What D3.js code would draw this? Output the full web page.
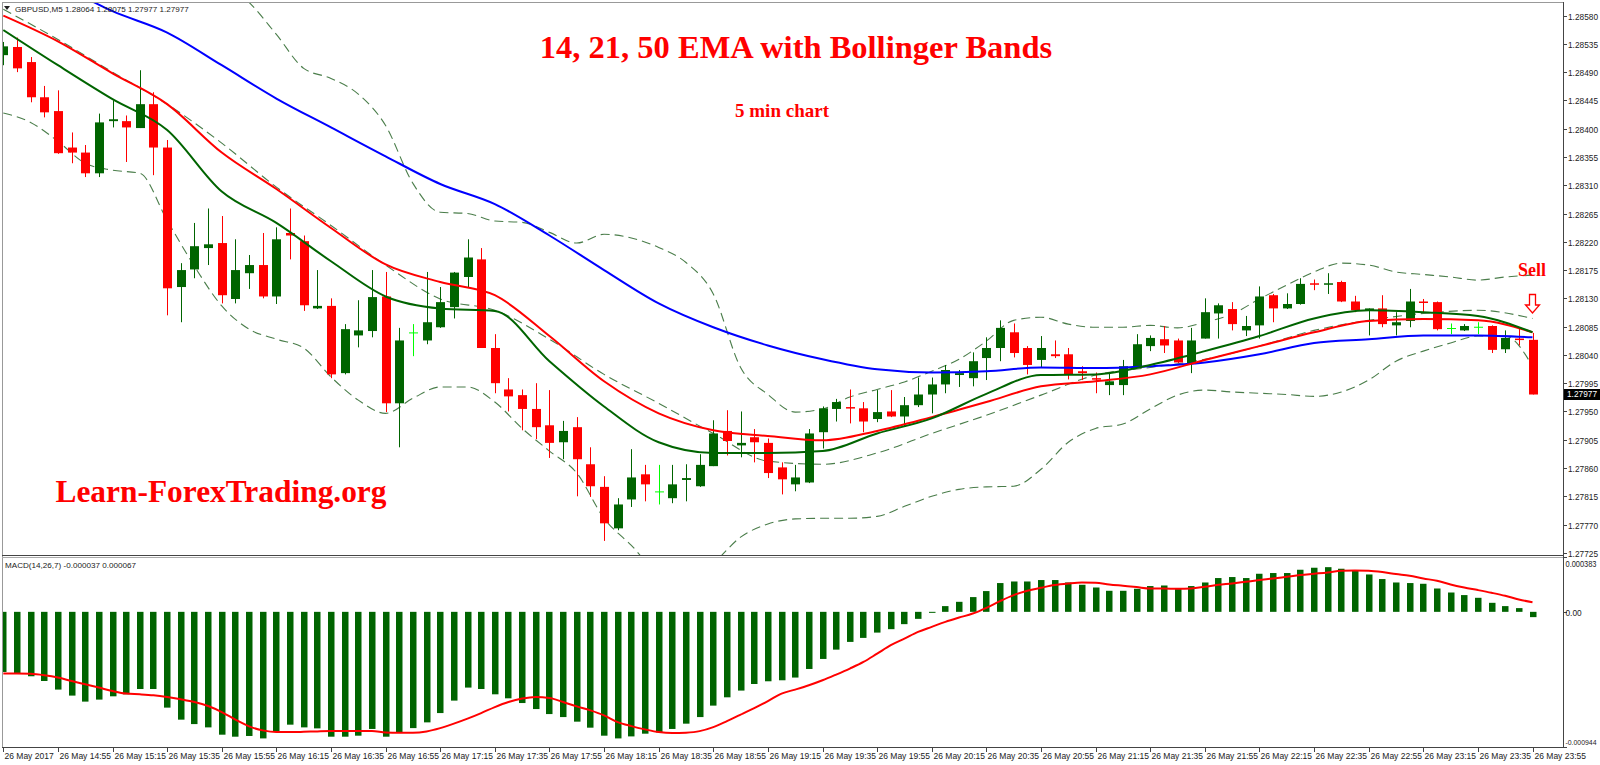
<!DOCTYPE html>
<html>
<head>
<meta charset="utf-8">
<script src="https://cdnjs.cloudflare.com/ajax/libs/d3/7.8.5/d3.min.js"></script>
<style>
  body { margin: 0; background: #fff; }
  svg { display: block; }
</style>
</head>
<body>
<svg id="chart" width="1600" height="765"></svg>
<script>
// GBPUSD M5 candles, 14:35 .. 23:55
const opens = [1.28517,1.28530,1.28506,1.28450,1.28428,1.28370,1.28362,1.28329,1.28412,1.28412,
  1.28401,1.28439,1.28370,1.28148,1.28176,1.28210,1.28218,1.28129,1.28170,1.28183,
  1.28133,1.28234,1.28221,1.28114,1.28118,1.28011,1.28071,1.28078,1.28133,1.27963,
  1.28075,1.28063,1.28084,1.28116,1.28164,1.28192,1.28051,1.27985,1.27976,1.27954,
  1.27928,1.27901,1.27925,1.27866,1.27830,1.27764,1.27810,1.27850,1.27822,1.27812,
  1.27841,1.27831,1.27863,1.27919,1.27896,1.27909,1.27900,1.27861,1.27834,1.27837,
  1.27917,1.27954,1.27957,1.27955,1.27938,1.27950,1.27942,1.27960,1.27977,1.27993,
  1.28008,1.28003,1.28035,1.28051,1.28076,1.28051,1.28032,1.28041,1.28041,1.28014,
  1.28003,1.27992,1.27992,1.28020,1.28054,1.28065,1.28063,1.28027,1.28066,1.28106,
  1.28113,1.28079,1.28087,1.28135,1.28114,1.28121,1.28154,1.28152,1.28156,1.28125,
  1.28110,1.28114,1.28087,1.28094,1.28125,1.28124,1.28082,1.28079,1.28084,1.28086,
  1.28049,1.28066,1.28064];
const highs = [1.28538,1.28545,1.28514,1.28468,1.28461,1.28394,1.28374,1.28424,1.28445,1.28421,
  1.28493,1.28458,1.28382,1.28186,1.28250,1.28273,1.28261,1.28224,1.28199,1.28234,
  1.28243,1.28273,1.28230,1.28175,1.28130,1.28089,1.28127,1.28175,1.28172,1.28083,
  1.28089,1.28172,1.28148,1.28172,1.28224,1.28210,1.28073,1.28003,1.27985,1.27995,
  1.27984,1.27935,1.27941,1.27893,1.27847,1.27812,1.27890,1.27865,1.27865,1.27865,
  1.27866,1.27882,1.27936,1.27952,1.27950,1.27922,1.27907,1.27869,1.27865,1.27922,
  1.27958,1.27970,1.27985,1.27965,1.27984,1.27984,1.27973,1.28004,1.28004,1.28024,
  1.28016,1.28044,1.28068,1.28095,1.28090,1.28054,1.28070,1.28063,1.28051,1.28022,
  1.28012,1.28011,1.28032,1.28073,1.28071,1.28086,1.28066,1.28083,1.28130,1.28122,
  1.28124,1.28102,1.28149,1.28137,1.28138,1.28162,1.28160,1.28170,1.28158,1.28134,
  1.28114,1.28135,1.28108,1.28145,1.28129,1.28125,1.28090,1.28089,1.28092,1.28087,
  1.28079,1.28084,1.28075];
const lows = [1.28501,1.28490,1.28442,1.28418,1.28360,1.28345,1.28323,1.28323,1.28402,1.28347,
  1.28401,1.28326,1.28103,1.28092,1.28162,1.28183,1.28122,1.28122,1.28145,1.28130,
  1.28121,1.28192,1.28110,1.28113,1.28003,1.28009,1.28052,1.28068,1.27949,1.27893,
  1.28038,1.28057,1.28083,1.28098,1.28148,1.28051,1.27979,1.27950,1.27920,1.27906,
  1.27876,1.27874,1.27815,1.27814,1.27744,1.27761,1.27798,1.27807,1.27802,1.27804,
  1.27807,1.27830,1.27863,1.27880,1.27877,1.27869,1.27844,1.27818,1.27823,1.27836,
  1.27891,1.27934,1.27931,1.27917,1.27933,1.27941,1.27927,1.27957,1.27947,1.27979,
  1.27989,1.27990,1.28000,1.28030,1.28036,1.28009,1.28020,1.28035,1.28001,1.28000,
  1.27979,1.27976,1.27976,1.28020,1.28046,1.28043,1.28027,1.28011,1.28066,1.28066,
  1.28079,1.28070,1.28066,1.28092,1.28113,1.28120,1.28143,1.28137,1.28124,1.28108,
  1.28071,1.28084,1.28071,1.28084,1.28108,1.28079,1.28073,1.28078,1.28073,1.28043,
  1.28043,1.28055,1.27977];
const closes = [1.28531,1.28496,1.28450,1.28426,1.28361,1.28362,1.28329,1.28410,1.28415,1.28402,
  1.28439,1.28370,1.28146,1.28175,1.28213,1.28216,1.28135,1.28175,1.28183,1.28133,
  1.28224,1.28230,1.28119,1.28118,1.28009,1.28081,1.28079,1.28132,1.27963,1.28063,
  1.28075,1.28092,1.28124,1.28171,1.28195,1.28051,1.27995,1.27974,1.27954,1.27925,
  1.27900,1.27919,1.27874,1.27831,1.27772,1.27802,1.27845,1.27834,1.27822,1.27834,
  1.27844,1.27865,1.27915,1.27903,1.27900,1.27901,1.27852,1.27842,1.27845,1.27915,
  1.27955,1.27965,1.27955,1.27934,1.27949,1.27942,1.27960,1.27977,1.27993,1.28016,
  1.28011,1.28030,1.28051,1.28083,1.28043,1.28024,1.28051,1.28038,1.28009,1.28011,
  1.28001,1.27998,1.28022,1.28057,1.28067,1.28055,1.28028,1.28063,1.28108,1.28119,
  1.28089,1.28086,1.28133,1.28114,1.28121,1.28153,1.28153,1.28154,1.28125,1.28111,
  1.28114,1.28089,1.28092,1.28125,1.28124,1.28081,1.28082,1.28086,1.28084,1.28048,
  1.28067,1.28064,1.27977];

// indicator lines (EMAs every 4 bars, bands every 2 bars)
const ema14 = [1.28557,1.28501,1.28447,1.28398,1.28300,1.28250,1.28189,1.28133,1.28114,1.28110,
  1.28030,1.27958,1.27901,1.27884,1.27884,1.27887,1.27915,1.27939,1.27978,1.28008,
  1.28009,1.28024,1.28046,1.28070,1.28098,1.28111,1.28108,1.28102,1.28076];
const ema21 = [1.28580,1.28539,1.28488,1.28439,1.28362,1.28304,1.28242,1.28184,1.28156,1.28135,
  1.28070,1.27998,1.27947,1.27920,1.27911,1.27904,1.27919,1.27941,1.27965,1.27990,
  1.27998,1.28009,1.28032,1.28054,1.28076,1.28094,1.28097,1.28095,1.28076];
const ema50 = [1.28668,1.28630,1.28587,1.28553,1.28501,1.28448,1.28402,1.28356,1.28312,1.28280,
  1.28230,1.28175,1.28122,1.28084,1.28055,1.28033,1.28017,1.28012,1.28014,1.28020,
  1.28019,1.28022,1.28028,1.28041,1.28059,1.28065,1.28071,1.28071,1.28068];
const bbMiddle = [1.28590,1.28542,1.28490,1.28439,1.28377,1.28307,1.28246,1.28183,1.28129,1.28111,
  1.28065,1.28009,1.27963,1.27915,1.27871,1.27866,1.27884,1.27915,1.27944,1.27976,
  1.28008,1.28020,1.28033,1.28054,1.28079,1.28095,1.28106,1.28111,1.28098];
const bbUpper = [1.28757,1.28732,1.28705,1.28679,1.28646,1.28619,1.28623,1.28636,1.28636,1.28601,
  1.28550,1.28496,1.28480,1.28455,1.28405,1.28313,1.28267,1.28265,1.28253,1.28251,
  1.28235,1.28218,1.28232,1.28226,1.28211,1.28187,1.28137,1.28020,1.27977,1.27949,
  1.27954,1.27973,1.27985,1.27997,1.28014,1.28033,1.28062,1.28095,1.28100,1.28089,
  1.28084,1.28084,1.28087,1.28083,1.28092,1.28105,1.28129,1.28151,1.28172,1.28186,
  1.28183,1.28172,1.28168,1.28164,1.28159,1.28164,1.28167];
const bbLower = [1.28425,1.28410,1.28380,1.28345,1.28334,1.28329,1.28254,1.28181,1.28118,1.28081,
  1.28065,1.28051,1.28005,1.27968,1.27947,1.27971,1.27989,1.27989,1.27965,1.27923,
  1.27887,1.27852,1.27780,1.27737,1.27693,1.27685,1.27709,1.27750,1.27771,1.27779,
  1.27780,1.27780,1.27783,1.27799,1.27815,1.27826,1.27830,1.27831,1.27858,1.27901,
  1.27923,1.27930,1.27954,1.27976,1.27984,1.27981,1.27979,1.27977,1.27974,1.27981,
  1.28000,1.28030,1.28046,1.28059,1.28070,1.28070,1.28022];

// MACD(14,26,7) histogram and signal
const macdHist = [-420,-427,-450,-483,-543,-585,-627,-613,-590,-576,
  -539,-539,-669,-753,-784,-807,-858,-872,-867,-884,
  -837,-788,-807,-814,-872,-872,-865,-818,-872,-842,
  -812,-772,-707,-620,-529,-539,-576,-604,-637,-679,
  -714,-735,-767,-809,-865,-884,-870,-851,-842,-818,
  -781,-735,-655,-597,-550,-504,-485,-478,-459,-399,
  -329,-264,-210,-182,-145,-121,-86,-49,-7,40,
  70,103,145,201,212,212,222,222,205,189,
  170,147,147,161,180,184,163,180,205,236,
  243,236,266,271,271,294,308,312,301,287,
  261,229,205,201,196,163,135,117,98,63,
  40,26,-37].map(v => v / 1e6);
const macdSignal = [-431,-431,-433,-443,-459,-483,-506,-529,-553,-571,
  -576,-583,-595,-611,-630,-658,-700,-753,-800,-828,
  -840,-840,-838,-835,-833,-833,-833,-833,-842,-844,
  -844,-835,-812,-781,-746,-707,-665,-630,-606,-595,
  -602,-630,-660,-688,-723,-770,-798,-821,-840,-847,
  -844,-833,-805,-763,-718,-672,-623,-571,-543,-513,
  -478,-438,-396,-350,-292,-233,-187,-140,-105,-70,
  -40,-12,28,75,117,147,168,187,198,205,
  203,191,182,173,163,163,161,163,175,189,
  198,210,222,233,245,257,266,275,287,289,
  287,278,264,252,233,217,191,170,152,133,
  112,86,67].map(v => v / 1e6);

const timeLabels = ["26 May 2017","26 May 14:55","26 May 15:15","26 May 15:35","26 May 15:55",
  "26 May 16:15","26 May 16:35","26 May 16:55","26 May 17:15","26 May 17:35","26 May 17:55",
  "26 May 18:15","26 May 18:35","26 May 18:55","26 May 19:15","26 May 19:35","26 May 19:55",
  "26 May 20:15","26 May 20:35","26 May 20:55","26 May 21:15","26 May 21:35","26 May 21:55",
  "26 May 22:15","26 May 22:35","26 May 22:55","26 May 23:15","26 May 23:35","26 May 23:55"];
const priceTicks = [1.28580,1.28535,1.28490,1.28445,1.28400,1.28355,1.28310,1.28265,1.28220,1.28175,
  1.28130,1.28085,1.28040,1.27995,1.27950,1.27905,1.27860,1.27815,1.27770,1.27725];
const macdTicks = [0.000383, 0, -0.000944];
const macdTickLabels = ["0.000383", "0.00", "-0.000944"];

const svg = d3.select("#chart");
const uiFont = "Liberation Sans, Arial, sans-serif";
const serif = "Liberation Serif, Times New Roman, serif";

// scales
const x = d3.scaleLinear().domain([0, 112]).range([3.3, 1532.5]);
const y = d3.scaleLinear().domain([1.27720, 1.28600]).range([556, 3]);
const ym = d3.scaleLinear().domain([-0.000944, 0.000383]).range([747, 557]);

const defs = svg.append("defs");
defs.append("clipPath").attr("id", "clipMain")
  .append("rect").attr("x", 3).attr("y", 3).attr("width", 1560).attr("height", 552);
defs.append("clipPath").attr("id", "clipSub")
  .append("rect").attr("x", 3).attr("y", 558).attr("width", 1560).attr("height", 189);

// frames
const frame = svg.append("g");
frame.append("line").attr("x1", 2.5).attr("x2", 2.5).attr("y1", 2).attr("y2", 748).attr("stroke", "#999");
frame.append("line").attr("x1", 2).attr("x2", 1564).attr("y1", 2.5).attr("y2", 2.5).attr("stroke", "#999");
frame.append("line").attr("x1", 2).attr("x2", 1564).attr("y1", 555.5).attr("y2", 555.5).attr("stroke", "#444");
frame.append("line").attr("x1", 2).attr("x2", 1564).attr("y1", 557.5).attr("y2", 557.5).attr("stroke", "#aaa");
frame.append("line").attr("x1", 2).attr("x2", 1564).attr("y1", 747.5).attr("y2", 747.5).attr("stroke", "#444");
frame.append("line").attr("x1", 1563.5).attr("x2", 1563.5).attr("y1", 2).attr("y2", 748).attr("stroke", "#444");

const mainG = svg.append("g").attr("clip-path", "url(#clipMain)");

// Bollinger bands (dashed)
const bandLine = (step) => d3.line()
  .x((d, i) => x(i * step))
  .y(d => y(d))
  .curve(d3.curveMonotoneX);
[[bbUpper, 2], [bbMiddle, 4], [bbLower, 2]].forEach(([vals, step]) => {
  mainG.append("path")
    .attr("d", bandLine(step)(vals))
    .attr("fill", "none")
    .attr("stroke", "#4a7d4a")
    .attr("stroke-width", 1.1)
    .attr("stroke-dasharray", "9,5");
});

// candles
const candles = opens.map((o, i) => ({ i, o, h: highs[i], l: lows[i], c: closes[i] }));
const bodyW = 9;
const cg = mainG.append("g");
candles.forEach(d => {
  const doji = d.o === d.c;
  const up = d.c > d.o;
  const col = doji ? "#00ff00" : (up ? "#006400" : "#ff0000");
  const cx = Math.round(x(d.i)) + 0.5;
  cg.append("line")
    .attr("x1", cx).attr("x2", cx)
    .attr("y1", y(d.h)).attr("y2", y(d.l))
    .attr("stroke", col).attr("stroke-width", 1);
  if (doji) {
    cg.append("line")
      .attr("x1", cx - bodyW / 2).attr("x2", cx + bodyW / 2)
      .attr("y1", y(d.o)).attr("y2", y(d.o))
      .attr("stroke", col).attr("stroke-width", 1);
  } else {
    const top = y(Math.max(d.o, d.c));
    const h = Math.max(1.5, y(Math.min(d.o, d.c)) - top);
    cg.append("rect")
      .attr("x", cx - bodyW / 2).attr("y", top)
      .attr("width", bodyW).attr("height", h)
      .attr("fill", col);
  }
});

// EMA lines
const emaLine = d3.line()
  .x((d, i) => x(i * 4))
  .y(d => y(d))
  .curve(d3.curveMonotoneX);
[[ema50, "#0000ff"], [ema21, "#ff0000"], [ema14, "#006400"]].forEach(([vals, col]) => {
  mainG.append("path")
    .attr("d", emaLine(vals))
    .attr("fill", "none")
    .attr("stroke", col)
    .attr("stroke-width", 2);
});

// price axis
const pa = svg.append("g");
priceTicks.forEach(p => {
  const yy = Math.round(y(p)) + 0.5;
  pa.append("line").attr("x1", 1563).attr("x2", 1567).attr("y1", yy).attr("y2", yy).attr("stroke", "#444");
  pa.append("text").attr("x", 1568).attr("y", yy + 3)
    .attr("font-family", uiFont).attr("font-size", 8.3).attr("fill", "#222")
    .text(p.toFixed(5));
});
const lastClose = closes[closes.length - 1];
pa.append("rect").attr("x", 1564).attr("y", y(lastClose) - 5.5).attr("width", 36).attr("height", 11).attr("fill", "#000");
pa.append("text").attr("x", 1567).attr("y", y(lastClose) + 3)
  .attr("font-family", uiFont).attr("font-size", 8.3).attr("fill", "#fff")
  .text(lastClose.toFixed(5));

// MACD panel
const subG = svg.append("g").attr("clip-path", "url(#clipSub)");
subG.selectAll("rect.hist")
  .data(macdHist)
  .join("rect")
  .attr("class", "hist")
  .attr("x", (d, i) => Math.round(x(i)) - 3)
  .attr("width", 6.5)
  .attr("y", d => Math.min(ym(d), ym(0)))
  .attr("height", d => Math.abs(ym(d) - ym(0)))
  .attr("fill", "#006400");
subG.append("path")
  .attr("d", d3.line().x((d, i) => x(i)).y(d => ym(d)).curve(d3.curveMonotoneX)(macdSignal))
  .attr("fill", "none")
  .attr("stroke", "#ff0000")
  .attr("stroke-width", 2);

macdTicks.forEach((v, i) => {
  const yy = Math.round(ym(v)) + 0.5;
  const ty = i === 0 ? yy + 9 : (i === 2 ? yy - 3 : yy + 3);
  pa.append("line").attr("x1", 1563).attr("x2", 1567).attr("y1", yy).attr("y2", yy).attr("stroke", "#444");
  const t = pa.append("text").attr("x", 1565.5).attr("y", ty)
    .attr("font-family", uiFont).attr("font-size", i === 2 ? 7.6 : 8.3).attr("fill", "#222")
    .text(macdTickLabels[i]);
  if (i !== 1) t.attr("textLength", i === 0 ? 31 : 31).attr("lengthAdjust", "spacingAndGlyphs");
});

// time axis
const ta = svg.append("g");
timeLabels.forEach((t, k) => {
  const xx = Math.round(x(k * 4)) + 0.5;
  ta.append("line").attr("x1", xx).attr("x2", xx).attr("y1", 748).attr("y2", 752).attr("stroke", "#444");
  ta.append("text").attr("x", xx + 1).attr("y", 759)
    .attr("font-family", uiFont).attr("font-size", 8.5).attr("fill", "#222")
    .text(t);
});

// header texts
svg.append("path").attr("d", "M4,6 L10,6 L7,10 Z").attr("fill", "#222");
svg.append("text").attr("x", 15).attr("y", 11.5)
  .attr("font-family", uiFont).attr("font-size", 8.1).attr("fill", "#222")
  .text("GBPUSD,M5  1.28064 1.28075 1.27977 1.27977");
svg.append("text").attr("x", 5).attr("y", 568)
  .attr("font-family", uiFont).attr("font-size", 8.1).attr("fill", "#222")
  .text("MACD(14,26,7) -0.000037 0.000067");

// annotations
svg.append("text").attr("x", 796).attr("y", 58).attr("text-anchor", "middle")
  .attr("font-family", serif).attr("font-weight", "bold").attr("font-size", 32.5).attr("fill", "#ff0000")
  .text("14, 21, 50 EMA with Bollinger Bands");
svg.append("text").attr("x", 782).attr("y", 117).attr("text-anchor", "middle")
  .attr("font-family", serif).attr("font-weight", "bold").attr("font-size", 19).attr("fill", "#ff0000")
  .text("5 min chart");
svg.append("text").attr("x", 221).attr("y", 502).attr("text-anchor", "middle")
  .attr("font-family", serif).attr("font-weight", "bold").attr("font-size", 31.4).attr("fill", "#ff0000")
  .text("Learn-ForexTrading.org");
svg.append("text").attr("x", 1532).attr("y", 276).attr("text-anchor", "middle")
  .attr("font-family", serif).attr("font-weight", "bold").attr("font-size", 18).attr("fill", "#ff0000")
  .text("Sell");
svg.append("path")
  .attr("d", "M1529.5,294.5 L1535.5,294.5 L1535.5,305 L1539.5,305 L1532.5,313 L1525.5,305 L1529.5,305 Z")
  .attr("fill", "#fff").attr("stroke", "#ff0000").attr("stroke-width", 1.3);
</script>
</body>
</html>
